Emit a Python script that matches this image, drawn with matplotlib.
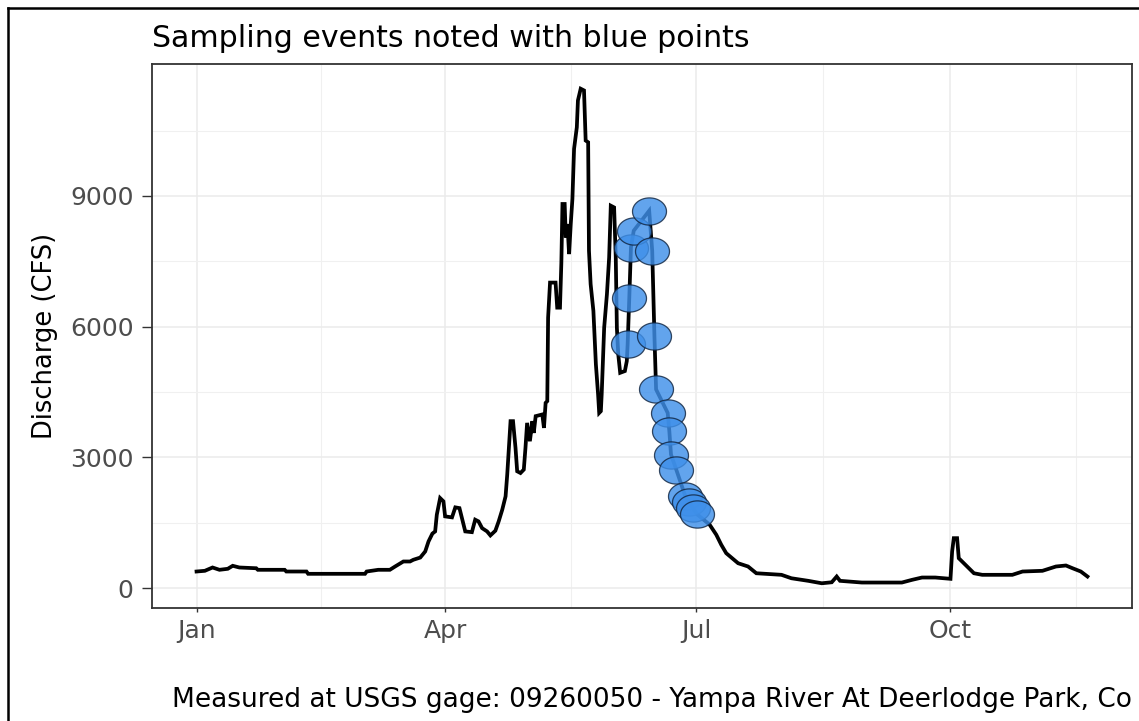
import numpy as np
import matplotlib
matplotlib.use("Agg")
import matplotlib.pyplot as plt
import matplotlib.dates as mdates
from matplotlib.lines import Line2D
from matplotlib.ticker import FixedLocator, FuncFormatter

# Daily discharge (days after Jan 1) and flow in cubic feet per second
day_offset = [
    0, 3, 5.8, 8.3, 11.3, 13.1, 15.5, 21.6, 22.2, 31.9, 32.5, 39.8, 40.4, 61,
    61.6, 65.8, 70, 71.9, 74.9, 77.3, 78.5, 81, 82.8, 84, 85.4, 86.4, 87, 88.2,
    89.4, 90, 92.5, 93.7, 95.2, 96.1, 97.3, 99.7, 100.9, 102.1, 103.4, 105.2,
    106.4, 108.2, 109.4, 110.7, 111.9, 112.5, 113.1, 113.7, 114.6, 115.5, 116.1,
    117.3, 118.5, 119.1, 119.7, 120.7, 121.6, 122.1, 122.8, 125.2, 125.8, 126.4,
    127.0, 127.3, 128.0, 130.0, 130.6, 131.6, 132.1, 132.5, 133.3, 133.7, 134.3,
    134.9, 135.5, 136.1, 136.7, 137.7, 138.1, 139.1, 140.3, 140.9, 141.8, 142.1,
    142.7, 143.7, 144.6, 145.4, 145.8, 146.4, 146.7, 147.6, 148.6, 149.4, 150.0,
    151.2, 151.8, 152.2, 152.7, 153.4, 155.1, 155.8, 156.1, 156.7, 157.3, 158.3,
    163.9, 165.0, 165.8, 166.4, 170.6, 171.2, 171.8, 173.7, 176.9, 178.4, 179.8,
    181.3, 185.8, 188.2, 190.0, 191.8, 196.1, 199.7, 202.7, 208.8, 211.8, 215.4,
    221.5, 226.4, 230.0, 231.8, 233.0, 240.9, 255.4, 259.1, 262.7, 267.5, 273.0,
    273.6, 274.2, 275.4, 276.0, 278.4, 281.5, 284.5, 295.4, 299.1, 306.3, 311.2,
    314.8, 317.2, 320.2, 322.6,
]
discharge_cfs = [
    380, 396, 472, 419, 442, 511, 472, 455, 419, 419, 380, 380, 327, 327,
    380, 419, 419, 495, 610, 610, 649, 700, 840, 1070, 1250, 1300, 1684, 2065,
    1990, 1645, 1622, 1852, 1835, 1605, 1300, 1283, 1569, 1530, 1375, 1300,
    1208, 1316, 1530, 1799, 2105, 2604, 3215, 3830, 3830, 3215, 2680,
    2640, 2719, 3215, 3790, 3370, 3830, 3560, 3945, 3984, 3675, 4250,
    4290, 6205, 7010, 7010, 6435, 6435, 7470, 8814, 8814, 8045, 8354,
    7664, 8354, 8929, 10079, 10575, 11190, 11459, 11420, 10270, 10230, 7740,
    6974, 6360, 5134, 4444, 4020, 4060, 4444, 5975, 6744, 7585, 8775,
    8735, 7585, 5975, 5364, 4940, 4980, 5210, 5594, 6665, 7815, 8200,
    8660, 7740, 5785, 4559, 4020, 3600, 3064, 2719, 2120, 1980, 1830,
    1690, 1454, 1224, 994, 800, 570, 495, 340, 317, 304, 225,
    166, 110, 133, 265, 166, 127, 127, 189, 242, 242, 212,
    840, 1145, 1145, 685, 534, 340, 304, 304, 380, 396, 495,
    518, 455, 380, 265,
]

# Sampling events
sample_day_offset = [156.1, 156.7, 157.3, 158.3, 163.9, 165.0, 165.8, 166.4,
                     170.6, 171.2, 171.8, 173.7, 176.9, 178.4, 179.8, 181.3]
sample_cfs = [5594, 6665, 7815, 8200, 8660, 7740, 5785, 4559,
              4020, 3600, 3064, 2719, 2120, 1980, 1830, 1690]

start_date = "2019-01-01"
y_major = [0, 3000, 6000, 9000]
y_minor = [1500, 4500, 7500, 10500]
x_major = ["2019-01-01", "2019-04-01", "2019-07-01", "2019-10-01"]
x_minor = ["2019-02-15", "2019-05-16T12:00", "2019-08-16", "2019-11-15T12:00"]

title_text = "Sampling events noted with blue points"
ylabel_text = "Discharge (CFS)"
caption_text = "Measured at USGS gage: 09260050 - Yampa River At Deerlodge Park, Co"


def to_dates(offsets):
    base = np.datetime64(start_date, "m")
    minutes = np.round(np.asarray(offsets, dtype=float) * 1440).astype("int64")
    return base + minutes.astype("timedelta64[m]")


plt.rcParams["font.family"] = ["DejaVu Sans"]

W, H = 1139, 721
fig = plt.figure(figsize=(W / 100, H / 100), dpi=100)
fig.patch.set_facecolor("white")

left, right, top, bottom = 152, 1132, 64, 608
ax = fig.add_axes([left / W, 1 - bottom / H, (right - left) / W, (bottom - top) / H])

ax.plot(to_dates(day_offset), discharge_cfs, color="black", lw=2.7,
        solid_joinstyle="miter", zorder=3)

# slightly wide ellipse marker
t = np.linspace(0, 2 * np.pi, 60)
ellipse = list(zip(1.25 * np.cos(t), np.sin(t)))
ax.scatter(to_dates(sample_day_offset), sample_cfs, marker=ellipse, s=24.5 ** 2,
           facecolor="#3F90EA", edgecolor="#10243f", linewidths=0.9,
           alpha=0.82, zorder=4)

ax.margins(x=0.05, y=0.05)

ax.yaxis.set_major_locator(FixedLocator(y_major))
ax.yaxis.set_minor_locator(FixedLocator(y_minor))
ax.xaxis.set_major_locator(FixedLocator(mdates.date2num(np.array(x_major, dtype="datetime64[m]"))))
ax.xaxis.set_minor_locator(FixedLocator(mdates.date2num(np.array(x_minor, dtype="datetime64[m]"))))
ax.xaxis.set_major_formatter(mdates.DateFormatter("%b"))
ax.yaxis.set_major_formatter(FuncFormatter(lambda v, p: f"{v:.0f}"))

ax.grid(which="major", color="#EBEBEB", lw=1.1)
ax.grid(which="minor", color="#F0F0F0", lw=0.8)
ax.set_axisbelow(True)

for s in ax.spines.values():
    s.set_color("#333333")
    s.set_linewidth(1.3)

ax.tick_params(axis="y", which="major", length=7.2, width=1.0, color="#333333",
               pad=6, labelsize=18, labelcolor="#4D4D4D")
ax.tick_params(axis="x", which="major", length=3.0, width=1.0, color="#333333",
               pad=5, labelsize=18, labelcolor="#4D4D4D")
ax.tick_params(which="minor", length=0)

ax.set_ylabel(ylabel_text, fontsize=18.5, color="black")
ax.yaxis.set_label_coords((58 - left) / (right - left), 0.5)

fig.text(left / W, 1 - 47 / H, title_text, fontsize=21.6, color="black",
         ha="left", va="baseline")
fig.text(right / W, 1 - 707 / H, caption_text, fontsize=19, color="black",
         ha="right", va="baseline")

# outer frame (left and top edges)
fig.add_artist(Line2D([8 / W, 8 / W], [0, 1 - 8 / H], transform=fig.transFigure,
                      color="black", lw=1.8))
fig.add_artist(Line2D([8 / W, 1], [1 - 8 / H, 1 - 8 / H], transform=fig.transFigure,
                      color="black", lw=1.8))

fig.savefig("out.png", dpi=100)
